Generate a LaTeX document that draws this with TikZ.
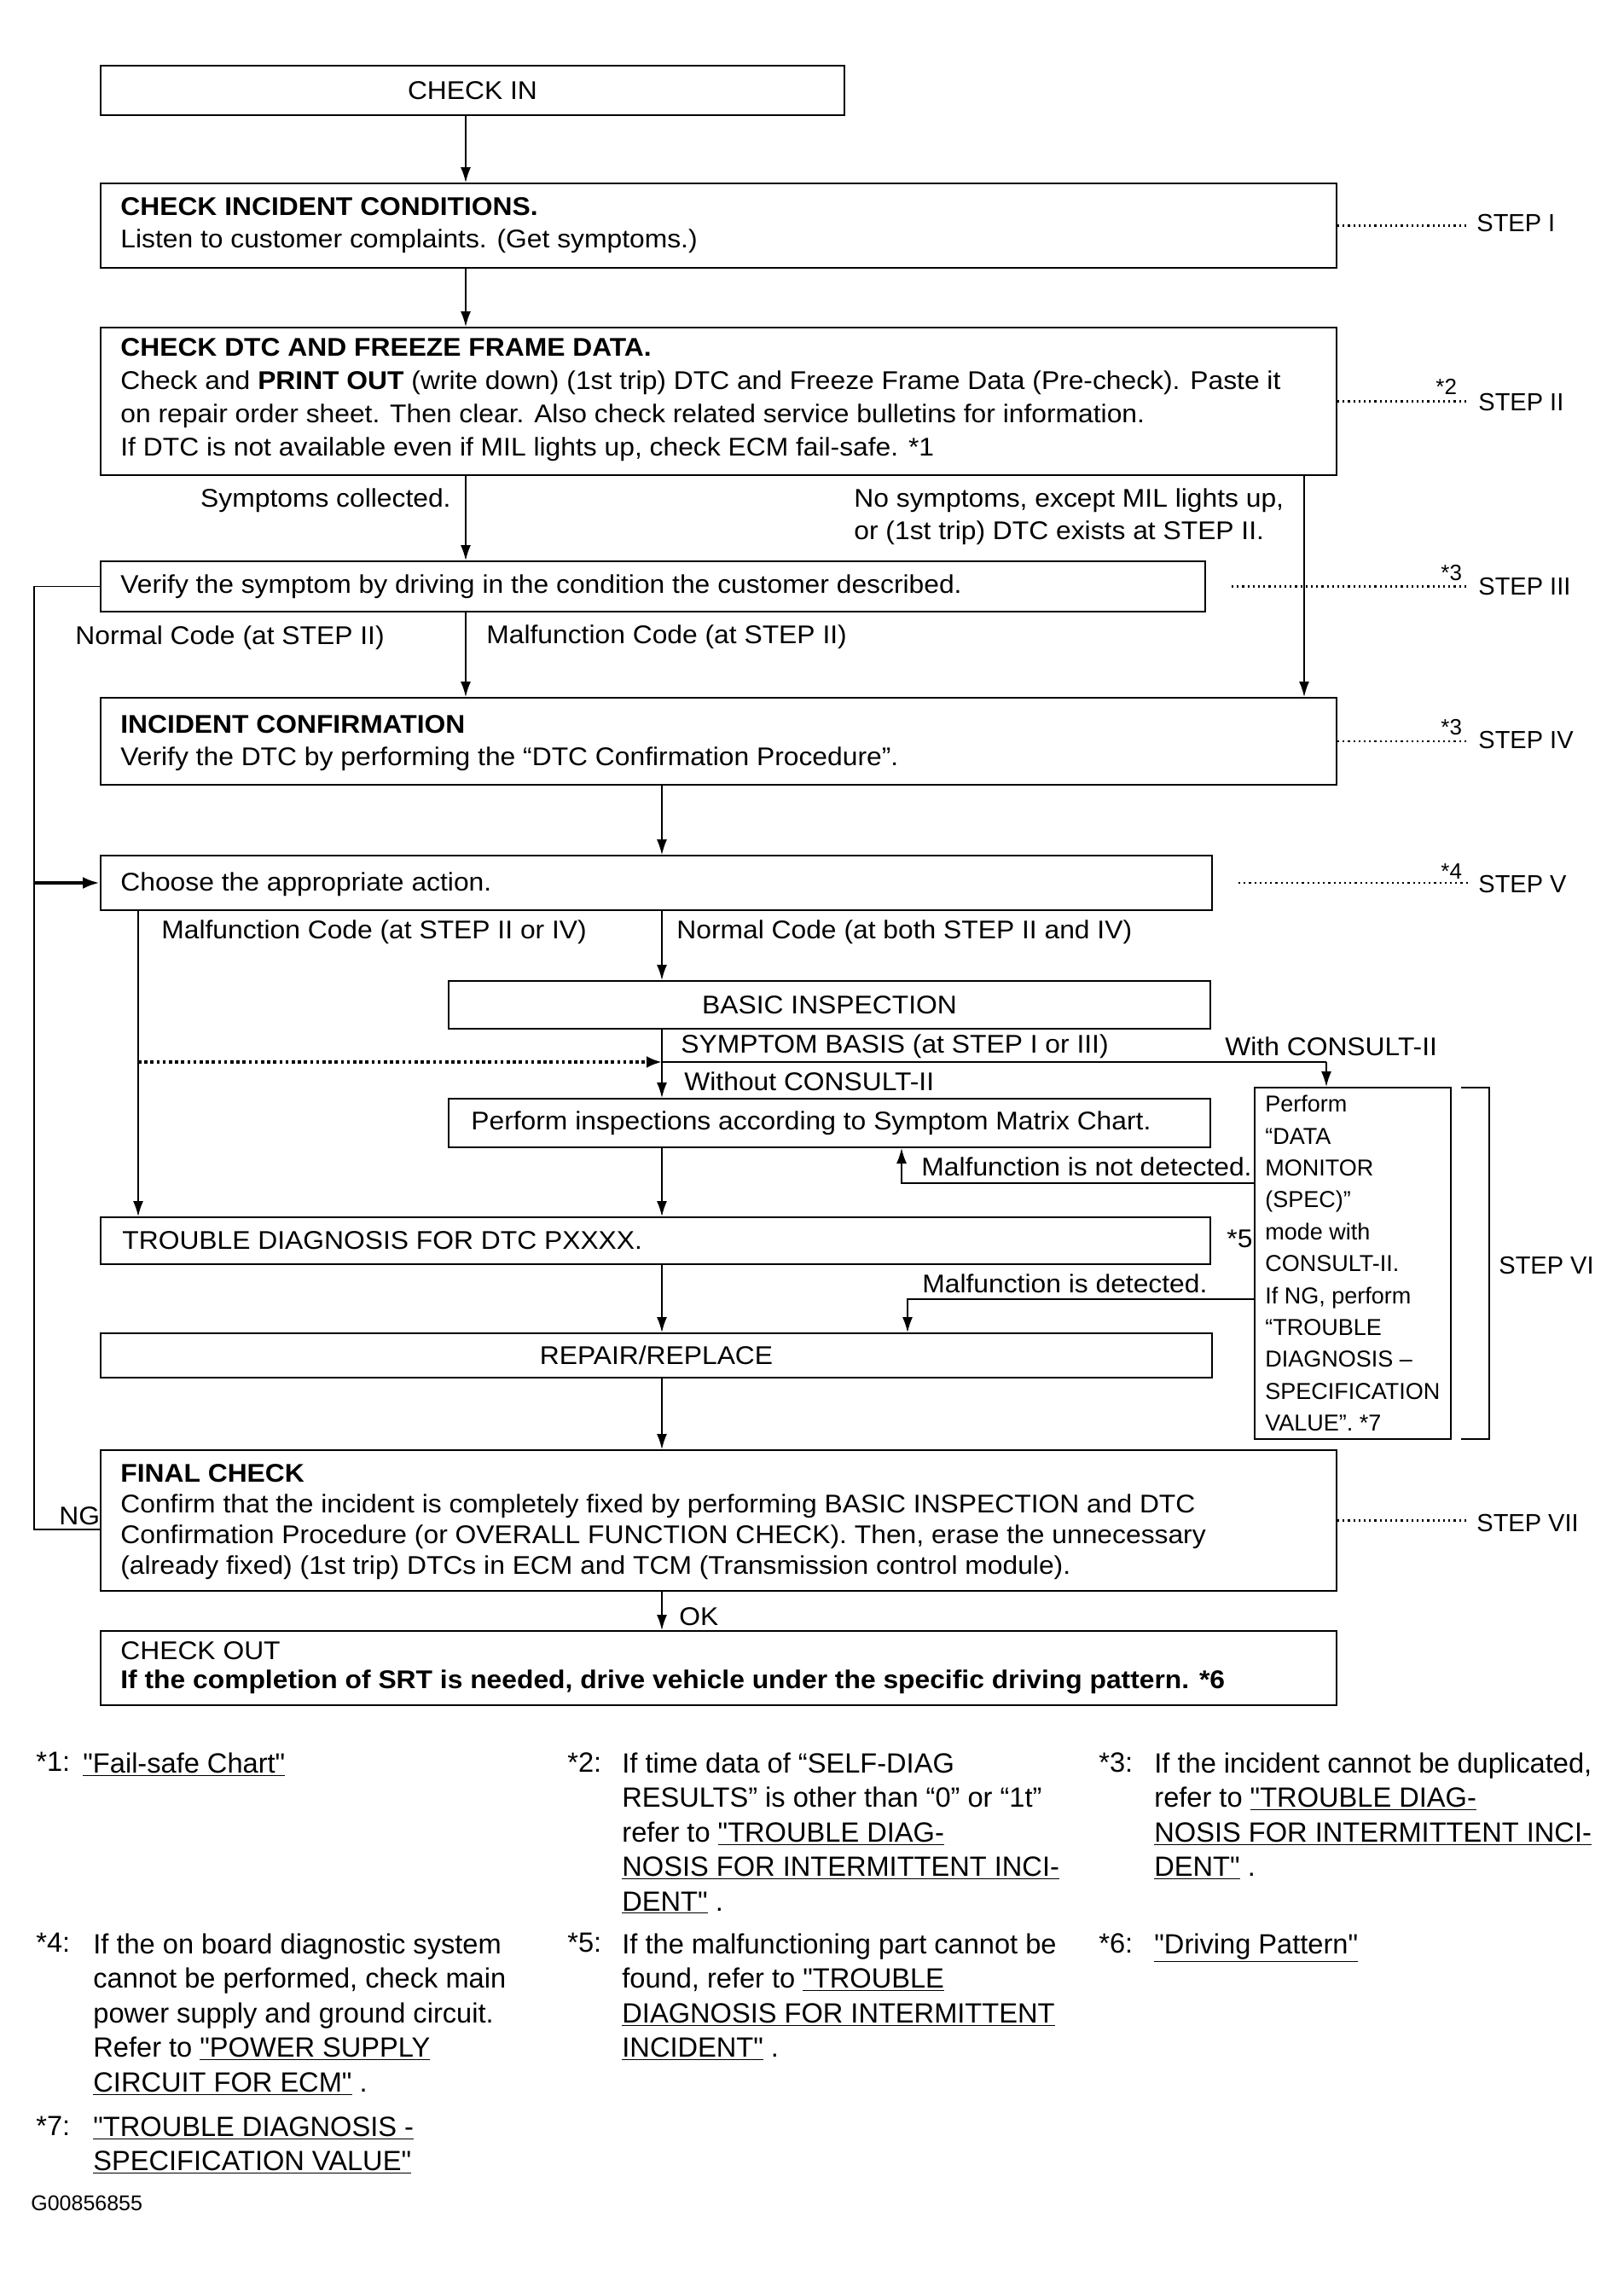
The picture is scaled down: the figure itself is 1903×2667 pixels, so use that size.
\documentclass[tikz,border=0pt]{standalone}
\usepackage{fontspec}
\setmainfont{Liberation Sans}
\newfontfamily\mainf{Liberation Sans}[FakeStretch=1.06]
\newcommand{\myq}{\textquotedbl}
\usetikzlibrary{arrows.meta,calc}
\begin{document}
\begin{tikzpicture}[x=0.5pt,y=-0.5pt,
  box/.style={draw, line width=1pt, rectangle, inner sep=0pt, font=\mainf\fontsize{15}{19}\selectfont},
  btext/.style={anchor=west, align=left, inner sep=0pt, font=\mainf\fontsize{15}{19.5}\selectfont},
  lbl/.style={anchor=west, inner sep=0pt, font=\mainf\fontsize{15}{19}\selectfont},
  arr/.style={line width=0.8pt, -{Latex[length=9pt,width=6pt]}},
  ln/.style={line width=0.8pt},
  dots/.style={line width=1.2pt, dash pattern=on 1.1pt off 2pt, shorten >=6pt},
  steplbl/.style={anchor=west, inner sep=0pt, font=\fontsize{14.5}{17}\selectfont},
  star/.style={anchor=west, inner sep=0pt, font=\fontsize{13}{15}\selectfont},
  note/.style={anchor=north west, align=left, inner sep=0pt, font=\fontsize{16.3}{20.25}\selectfont},
]
\useasboundingbox[fill=white] (0,0) rectangle (1903,2667);

% coordinates for connector columns
\coordinate (xa) at (546,0);
\coordinate (xb) at (776,0);
\coordinate (xr) at (1529,0);
\coordinate (xl) at (40,0);
\coordinate (xm) at (162,0);
\coordinate (xc) at (1555,0);
\coordinate (xn) at (1057,0);
\coordinate (xd) at (1064,0);
\coordinate (ysb) at (0,1245);
\coordinate (ynd) at (0,1387);
\coordinate (ymd) at (0,1523);

% boxes
\node[box, minimum width=436pt, minimum height=29pt] (checkin) at (554,106) {CHECK IN};
\node[box, minimum width=724.5pt, minimum height=49.5pt] (incident) at (842.5,264.5) {};
\node[box, minimum width=724.5pt, minimum height=86.5pt] (dtc) at (842.5,470.5) {};
\node[box, minimum width=647.5pt, minimum height=29.5pt] (verify) at (765.5,687.5) {};
\node[box, minimum width=724.5pt, minimum height=51pt] (confirm) at (842.5,869) {};
\node[box, minimum width=651.5pt, minimum height=32pt] (choose) at (769.5,1035) {};
\node[box, minimum width=446.5pt, minimum height=28pt] (basic) at (972.5,1178) {BASIC INSPECTION};
\node[box, minimum width=446.5pt, minimum height=28.5pt] (perform) at (972.5,1316.5) {};
\node[box, minimum width=650.5pt, minimum height=27.5pt] (trouble) at (768.5,1454.5) {};
\node[box, minimum width=651.5pt, minimum height=26pt] (repair) at (769.5,1589) {REPAIR/REPLACE};
\node[box, minimum width=115pt, minimum height=206pt] (datamon) at (1586,1481) {};
\node[box, minimum width=724.5pt, minimum height=82.5pt] (final) at (842.5,1782.5) {};
\node[box, minimum width=724.5pt, minimum height=43.5pt] (checkout) at (842.5,1955.5) {};

% box texts
\node[btext, font=\mainf\fontsize{15}{19}\selectfont] (incident-t) at (141,264.5) {\textbf{CHECK INCIDENT CONDITIONS.}\\Listen to customer complaints. (Get symptoms.)};
\node[btext] (dtc-t) at (141,468.5) {\textbf{CHECK DTC AND FREEZE FRAME DATA.}\\Check and \textbf{PRINT OUT} (write down) (1st trip) DTC and Freeze Frame Data (Pre-check). Paste it\\on repair order sheet. Then clear. Also check related service bulletins for information.\\If DTC is not available even if MIL lights up, check ECM fail-safe. *1};
\node[btext] (verify-t) at (141,687.5) {Verify the symptom by driving in the condition the customer described.};
\node[btext, font=\mainf\fontsize{15}{19}\selectfont] (confirm-t) at (141,871) {\textbf{INCIDENT CONFIRMATION}\\Verify the DTC by performing the “DTC Confirmation Procedure”.};
\node[btext] (choose-t) at (141,1037) {Choose the appropriate action.};
\node[btext] (perform-t) at (552,1317) {Perform inspections according to Symptom Matrix Chart.};
\node[btext] (trouble-t) at (143,1454) {TROUBLE DIAGNOSIS FOR DTC PXXXX.};
\node[btext, font=\fontsize{13.5}{18.7}\selectfont] (datamon-t) at (1483,1481) {Perform\\“DATA\\MONITOR\\(SPEC)”\\mode with\\CONSULT-II.\\If NG, perform\\“TROUBLE\\DIAGNOSIS –\\SPECIFICATION\\VALUE”. *7};
\node[btext, font=\mainf\fontsize{15}{18}\selectfont] (final-t) at (141,1784) {\textbf{FINAL CHECK}\\Confirm that the incident is completely fixed by performing BASIC INSPECTION and DTC\\Confirmation Procedure (or OVERALL FUNCTION CHECK). Then, erase the unnecessary\\(already fixed) (1st trip) DTCs in ECM and TCM (Transmission control module).};
\node[btext, font=\mainf\fontsize{15}{17}\selectfont] (checkout-t) at (141,1955) {CHECK OUT\\\textbf{If the completion of SRT is needed, drive vehicle under the specific driving pattern. *6}};

% connectors
\draw[arr] (checkin.south -| xa) -- (incident.north -| xa);
\draw[arr] (incident.south -| xa) -- (dtc.north -| xa);
\draw[arr] (dtc.south -| xa) -- (verify.north -| xa);
\draw[arr] (dtc.south -| xr) -- (confirm.north -| xr);
\draw[arr] (verify.south -| xa) -- (confirm.north -| xa);
\draw[ln] (verify.west) -- (verify.west -| xl) -- ($(final.west -| xl)+(0,10.5)$) -- ($(final.west)+(0,10.5)$);
\draw[line width=2.2pt, -{Latex[length=10pt,width=7pt]}] (choose.west -| xl) -- (choose.west);
\draw[line width=0.6pt, -{Latex[length=9pt,width=6pt]}] (confirm.south -| xb) -- (choose.north -| xb);
\draw[arr] (choose.south -| xm) -- (trouble.north -| xm);
\draw[arr] (choose.south -| xb) -- (basic.north -| xb);
\draw[arr] (basic.south -| xb) -- (perform.north -| xb);
\draw[line width=1.2pt] (xb |- ysb) -- (xc |- ysb);
\draw[arr] (xc |- ysb) -- (datamon.north -| xc);
\draw[line width=1.8pt, dash pattern=on 1.8pt off 1.8pt, -{Latex[length=9pt,width=7pt]}] (xm |- ysb) -- (xb |- ysb);
\draw[arr] (datamon.west |- ynd) -- (xn |- ynd) -- (perform.south -| xn);
\draw[arr] (perform.south -| xb) -- (trouble.north -| xb);
\draw[arr] (trouble.south -| xb) -- (repair.north -| xb);
\draw[arr] (datamon.west |- ymd) -- (xd |- ymd) -- (repair.north -| xd);
\draw[arr] (repair.south -| xb) -- (final.north -| xb);
\draw[arr] (final.south -| xb) -- (checkout.north -| xb);

% bracket STEP VI
\coordinate (brt) at (1713,1275);
\coordinate (brb) at (1713,1687);
\draw[line width=1pt] (brt) -- ++(33,0) -- ($(brb)+(33,0)$) -- (brb);

% labels
\node[lbl, anchor=east] (l-sym) at (529,587) {Symptoms collected.};
\node[lbl, align=left] (l-nosym) at (1001,606) {No symptoms, except MIL lights up,\\or (1st trip) DTC exists at STEP II.};
\node[lbl] (l-nc1) at (88,748) {Normal Code (at STEP II)};
\node[lbl] (l-mc1) at (570,747) {Malfunction Code (at STEP II)};
\node[lbl] (l-mc2) at (189,1093) {Malfunction Code (at STEP II or IV)};
\node[lbl] (l-nc2) at (793,1093) {Normal Code (at both STEP II and IV)};
\node[lbl] (l-sb) at (798,1227) {SYMPTOM BASIS (at STEP I or III)};
\node[lbl] (l-with) at (1436,1227) {With CONSULT-II};
\node[lbl] (l-without) at (802,1268) {Without CONSULT-II};
\node[lbl, anchor=east] (l-nd) at (1468,1368) {Malfunction is not detected.};
\node[lbl] (l-md) at (1081,1505) {Malfunction is detected.};
\node[lbl] (l-ok) at (796,1895) {OK};
\node[lbl] (l-ng) at (69,1777) {NG};
\node[lbl] (l-s5) at (1438,1452) {*5};

% step labels
\node[steplbl] (s1) at (1731,262) {STEP I};
\node[steplbl] (s2) at (1733,472) {STEP II};
\node[steplbl] (s3) at (1733,688) {STEP III};
\node[steplbl] (s4) at (1733,868) {STEP IV};
\node[steplbl] (s5) at (1733,1037) {STEP V};
\node[steplbl] (s6) at (1757,1483) {STEP VI};
\node[steplbl] (s7) at (1731,1785) {STEP VII};
\node[star] (m2) at (1683,453) {*2};
\node[star] (m3a) at (1689,672) {*3};
\node[star] (m3b) at (1689,853) {*3};
\node[star] (m4) at (1689,1022) {*4};
\draw[dots] (incident.east) -- (incident.east -| s1.west);
\draw[dots] (dtc.east) -- (dtc.east -| s2.west);
\draw[dots] ($(verify.east)+(30,0)$) -- (verify.east -| s3.west);
\draw[dots] (confirm.east) -- (confirm.east -| s4.west);
\draw[dots] ($(choose.east)+(30,0)$) -- (choose.east -| s5.west);
\draw[dots] (final.east) -- (final.east -| s7.west);

% footnotes
\node[note] (f1m) at (42,2054) {*1:};
\node[note] (f1) at (97,2054) {\underline{\myq Fail-safe Chart\myq}};
\node[note] (f2m) at (665,2054) {*2:};
\node[note] (f2) at (729,2054) {If time data of “SELF-DIAG\\RESULTS” is other than “0” or “1t”\\refer to \underline{\myq TROUBLE DIAG-}\\\underline{NOSIS FOR INTERMITTENT INCI-}\\\underline{DENT\myq} .};
\node[note] (f3m) at (1288,2054) {*3:};
\node[note] (f3) at (1353,2054) {If the incident cannot be duplicated,\\refer to \underline{\myq TROUBLE DIAG-}\\\underline{NOSIS FOR INTERMITTENT INCI-}\\\underline{DENT\myq} .};
\node[note] (f4m) at (42,2266) {*4:};
\node[note] (f4) at (109,2266) {If the on board diagnostic system\\cannot be performed, check main\\power supply and ground circuit.\\Refer to \underline{\myq POWER SUPPLY}\\\underline{CIRCUIT FOR ECM\myq} .};
\node[note] (f5m) at (665,2266) {*5:};
\node[note] (f5) at (729,2266) {If the malfunctioning part cannot be\\found, refer to \underline{\myq TROUBLE}\\\underline{DIAGNOSIS FOR INTERMITTENT}\\\underline{INCIDENT\myq} .};
\node[note] (f6m) at (1288,2266) {*6:};
\node[note] (f6) at (1353,2266) {\underline{\myq Driving Pattern\myq}};
\node[note] (f7m) at (42,2481) {*7:};
\node[note] (f7) at (109,2481) {\underline{\myq TROUBLE DIAGNOSIS -}\\\underline{SPECIFICATION VALUE\myq}};
\node[anchor=west, inner sep=0pt, font=\fontsize{12.5}{14}\selectfont] (gid) at (36,2583) {G00856855};
\end{tikzpicture}
\end{document}
